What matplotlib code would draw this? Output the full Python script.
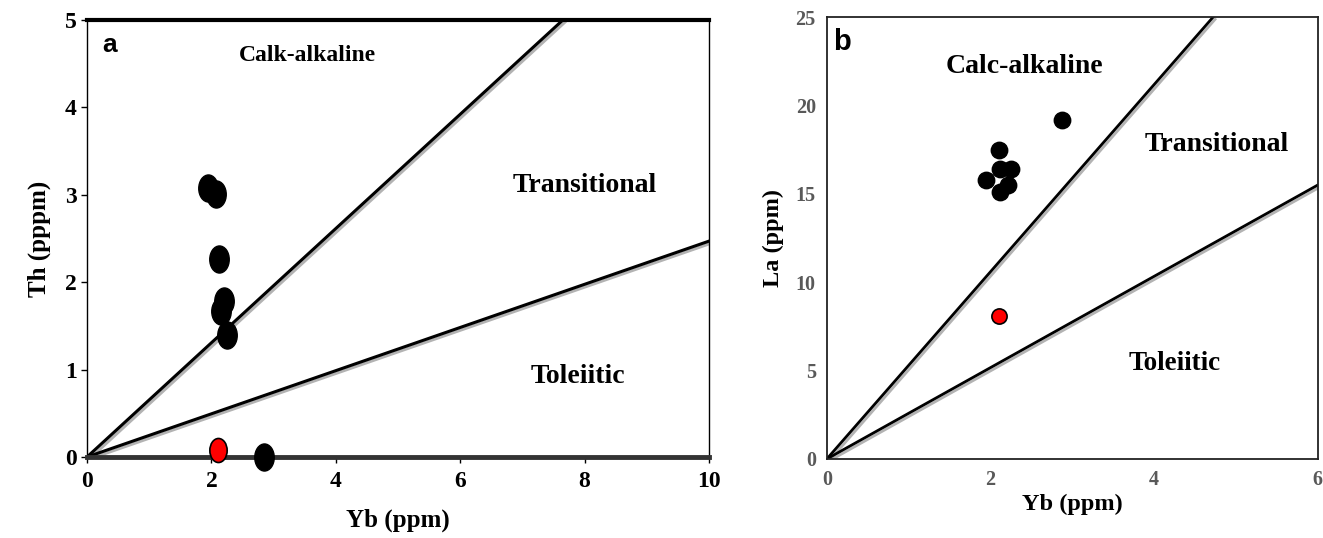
import numpy as np
import matplotlib.pyplot as plt
import matplotlib.patheffects as pe
from matplotlib.path import Path
from matplotlib.transforms import Affine2D

# panel a: Th vs Yb
yb_a_black = [1.95, 2.08, 2.12, 2.20, 2.15, 2.25, 2.85]
th_a_black = [3.08, 3.01, 2.27, 1.78, 1.67, 1.40, 0.00]
yb_a_red = [2.10]
th_a_red = [0.08]
# boundary lines (end points)
line_a_upper = ([0, 7.65], [0, 5.0])
line_a_lower = ([0, 10.0], [0, 2.47])

# panel b: La vs Yb
yb_b_black = [2.88, 2.10, 2.12, 2.25, 1.95, 2.22, 2.12]
la_b_black = [19.2, 17.5, 16.4, 16.4, 15.8, 15.5, 15.1]
yb_b_red = [2.10]
la_b_red = [8.1]
line_b_upper = ([0, 4.72], [0, 25.0])
line_b_lower = ([0, 6.0], [0, 15.5])

serif = 'Liberation Serif'
shadow = [pe.SimpleLineShadow(offset=(1.5, -1.5), shadow_color='#a0a0a0', alpha=0.8), pe.Normal()]

# tall ellipse marker for panel a (stretched image look)
ell = Path.unit_circle().transformed(Affine2D().scale(0.72, 1.0))

fig = plt.figure(figsize=(13.23, 5.38), dpi=100)

# ---- panel a ----
ax = fig.add_axes([0.0658, 0.1506, 0.470, 0.812])
ax.plot(*line_a_upper, color='black', lw=2.2, path_effects=shadow, zorder=2)
ax.plot(*line_a_lower, color='black', lw=2.2, path_effects=shadow, zorder=2)
ax.scatter(yb_a_black, th_a_black, marker=ell, s=380, color='black', zorder=3, clip_on=False)
ax.scatter(yb_a_red, th_a_red, marker=ell, s=300, color='red', edgecolor='black', lw=1.2, zorder=3, clip_on=False)
ax.set_xlim(0, 10)
ax.set_ylim(0, 5)
ax.set_xticks([0, 2, 4, 6, 8, 10])
ax.set_yticks([0, 1, 2, 3, 4, 5])
for s in ['left', 'right']:
    ax.spines[s].set_linewidth(1.0)
ax.spines['top'].set_linewidth(3.0)
ax.spines['bottom'].set_linewidth(3.5)
ax.spines['bottom'].set_color('#333333')
ax.tick_params(direction='out', length=4, width=1, labelsize=17)
for lab in ax.get_xticklabels() + ax.get_yticklabels():
    lab.set_fontfamily(serif)
    lab.set_fontweight('bold')
ax.tick_params(axis='x', pad=6)
ax.set_xlabel('Yb (ppm)', fontfamily=serif, fontweight='bold', fontsize=18, labelpad=12)
ax.set_ylabel('Th (pppm)', fontfamily=serif, fontweight='bold', fontsize=18, labelpad=10)
ax.text(0.25, 4.72, 'a', fontfamily='Liberation Sans', fontweight='bold', fontsize=19, va='center')
ax.text(3.55, 4.6, 'Calk-alkaline', fontfamily=serif, fontweight='bold', fontsize=17, ha='center', va='center')
ax.text(8.0, 3.11, 'Transitional', fontfamily=serif, fontweight='bold', fontsize=20, ha='center', va='center')
ax.text(7.9, 0.92, 'Toleiitic', fontfamily=serif, fontweight='bold', fontsize=20, ha='center', va='center')

# ---- panel b ----
bx = fig.add_axes([0.625, 0.147, 0.371, 0.821])
bx.plot(*line_b_upper, color='black', lw=2.0, path_effects=shadow, zorder=2)
bx.plot(*line_b_lower, color='black', lw=2.0, path_effects=shadow, zorder=2)
bx.scatter(yb_b_black, la_b_black, s=140, color='black', zorder=3)
bx.scatter(yb_b_red, la_b_red, s=120, color='red', edgecolor='black', lw=1.2, zorder=3)
bx.set_xlim(0, 6)
bx.set_ylim(0, 25)
bx.set_xticks([0, 2, 4, 6])
bx.set_yticks([0, 5, 10, 15, 20, 25])
for s in bx.spines.values():
    s.set_linewidth(1.3)
    s.set_color('#222222')
bx.tick_params(direction='out', length=0, labelsize=14.5, labelcolor='#595959', pad=8)
for lab in bx.get_xticklabels() + bx.get_yticklabels():
    lab.set_fontfamily(serif)
    lab.set_fontweight('bold')
bx.set_xlabel('Yb (ppm)', fontfamily=serif, fontweight='bold', fontsize=17.5, labelpad=3)
bx.set_ylabel('La (ppm)', fontfamily=serif, fontweight='bold', fontsize=17.5, labelpad=8)
bx.text(0.08, 23.6, 'b', fontfamily='Liberation Sans', fontweight='bold', fontsize=21, va='center')
bx.text(2.42, 22.2, 'Calc-alkaline', fontfamily=serif, fontweight='bold', fontsize=20, ha='center', va='center')
bx.text(4.76, 17.8, 'Transitional', fontfamily=serif, fontweight='bold', fontsize=20, ha='center', va='center')
bx.text(4.25, 5.4, 'Toleiitic', fontfamily=serif, fontweight='bold', fontsize=19.5, ha='center', va='center')

fig.savefig('out.png', dpi=100)
